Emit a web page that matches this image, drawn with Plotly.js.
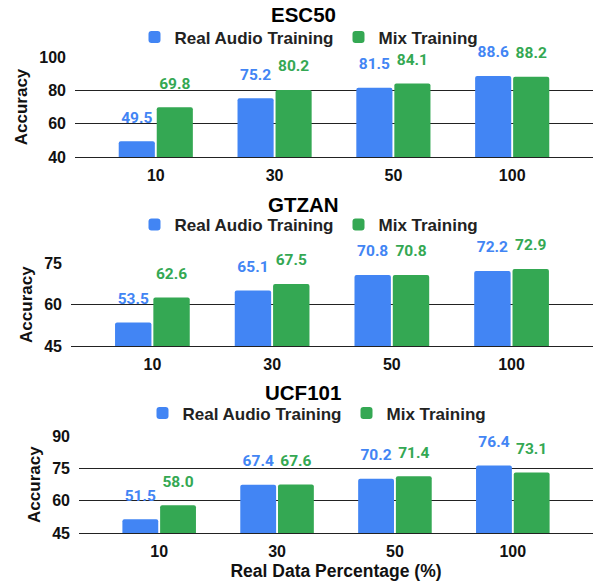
<!DOCTYPE html>
<html>
<head>
<meta charset="utf-8">
<script src="https://cdn.plot.ly/plotly-3.0.1.min.js"></script>
<style>html,body{margin:0;padding:0;background:#fff}#chart{width:600px;height:581px}</style>
</head>
<body>
<div id="chart"></div>
<script>
// ---- data ----
const categories = ['10', '30', '50', '100'];
const seriesNames = ['Real Audio Training', 'Mix Training'];
const panelTitles = ['ESC50', 'GTZAN', 'UCF101'];

const esc50Real = [49.5, 75.2, 81.5, 88.6];
const esc50Mix  = [69.8, 80.2, 84.1, 88.2];
const gtzanReal = [53.5, 65.1, 70.8, 72.2];
const gtzanMix  = [62.6, 67.5, 70.8, 72.9];
const ucfReal   = [51.5, 67.4, 70.2, 76.4];
const ucfMix    = [58.0, 67.6, 71.4, 73.1];

const yRanges = [[40, 100], [45, 75], [45, 90]];
const yDticks = [20, 15, 15];

const xAxisTitle = 'Real Data Percentage (%)';
const yAxisTitle = 'Accuracy';

// ---- styles ----
const BLUE = '#4285F4';
const GREEN = '#34A853';
const FONT = 'Liberation Sans, Arial, sans-serif';
const LABEL_FONT = 'Roboto, Liberation Sans, Arial, sans-serif';

const panels = [
  {real: esc50Real, mix: esc50Mix},
  {real: gtzanReal, mix: gtzanMix},
  {real: ucfReal, mix: ucfMix}
];

// layout geometry (paper fractions)
const xDomains = [[0.125, 0.9883], [0.1183, 0.9883], [0.1317, 0.9883]];
const yDomains = [[0.7298, 0.9019], [0.4045, 0.5468], [0.0821, 0.2496]];
const titleY = [1 - 14.2 / 581, 1 - 204.5 / 581, 1 - 392.7 / 581];
const legendY = [1 - 37.5 / 581, 1 - 225 / 581, 1 - 413.5 / 581];
const legendX = [309 / 600, 309 / 600, 317 / 600];

const traces = [];
const layout = {
  width: 600, height: 581,
  margin: {l: 0, r: 0, t: 0, b: 0},
  paper_bgcolor: '#fff', plot_bgcolor: '#fff',
  font: {family: FONT, size: 15, color: '#000', weight: 'bold'},
  barmode: 'group', bargap: 0.36, bargroupgap: 0.05, barcornerradius: 2,
  scattermode: 'group', scattergap: 0.36,
  showlegend: true,
  annotations: []
};

panels.forEach((p, i) => {
  const n = i === 0 ? '' : String(i + 1);
  const xa = 'x' + n, ya = 'y' + n;
  const legendId = 'legend' + n;
  [[p.real, BLUE, seriesNames[0]], [p.mix, GREEN, seriesNames[1]]].forEach(([vals, col, name]) => {
    traces.push({
      type: 'bar', x: categories, y: vals, name: name,
      xaxis: xa, yaxis: ya, legend: legendId,
      marker: {color: col}, hoverinfo: 'skip'
    });
  });
  [[p.real, BLUE], [p.mix, GREEN]].forEach(([vals, col]) => {
    traces.push({
      type: 'scatter', mode: 'markers+text', x: categories, y: vals,
      text: vals.map(v => v.toFixed(1)), textposition: 'top center',
      textfont: {family: LABEL_FONT, size: 15.5, color: col, weight: 'bold'},
      marker: {size: 22, opacity: 0, color: col},
      xaxis: xa, yaxis: ya, showlegend: false, hoverinfo: 'skip', cliponaxis: false
    });
  });

  layout['xaxis' + n] = {
    domain: xDomains[i], anchor: ya, type: 'category',
    range: [-0.68, 3.68], showgrid: false, zeroline: false,
    showline: true, linecolor: '#222', linewidth: 1,
    ticks: '', ticklabelstandoff: 4,
    tickfont: {family: FONT, size: 16, color: '#111', weight: 'bold'},
    fixedrange: true
  };
  if (i === 2) {
    layout['xaxis' + n].title = {text: xAxisTitle, standoff: 1,
      font: {family: FONT, size: 17.5, color: '#111', weight: 'bold'}};
  }
  layout['yaxis' + n] = {
    domain: yDomains[i], anchor: xa, range: yRanges[i], dtick: yDticks[i],
    tick0: yRanges[i][0],
    showgrid: true, gridcolor: '#222', gridwidth: 1, zeroline: false, showline: false,
    ticks: '', ticklabelstandoff: 8,
    tickfont: {family: FONT, size: 16, color: '#111', weight: 'bold'},
    title: {text: yAxisTitle, standoff: 7,
      font: {family: FONT, size: 17, color: '#111', weight: 'bold'}},
    fixedrange: true
  };
  layout[legendId] = {
    orientation: 'h', x: legendX[i], xanchor: 'center', y: legendY[i], yanchor: 'middle',
    font: {family: FONT, size: 17, color: '#222', weight: 'bold'},
    bgcolor: 'rgba(0,0,0,0)', traceorder: 'normal', itemclick: false
  };
  layout.annotations.push({
    text: panelTitles[i], xref: 'paper', yref: 'paper',
    x: 303 / 600, y: titleY[i], xanchor: 'center', yanchor: 'middle', showarrow: false,
    font: {family: FONT, size: 20.5, color: '#000', weight: 'bold'}
  });
});

Plotly.newPlot('chart', traces, layout, {displayModeBar: false, staticPlot: true});
</script>
</body>
</html>
